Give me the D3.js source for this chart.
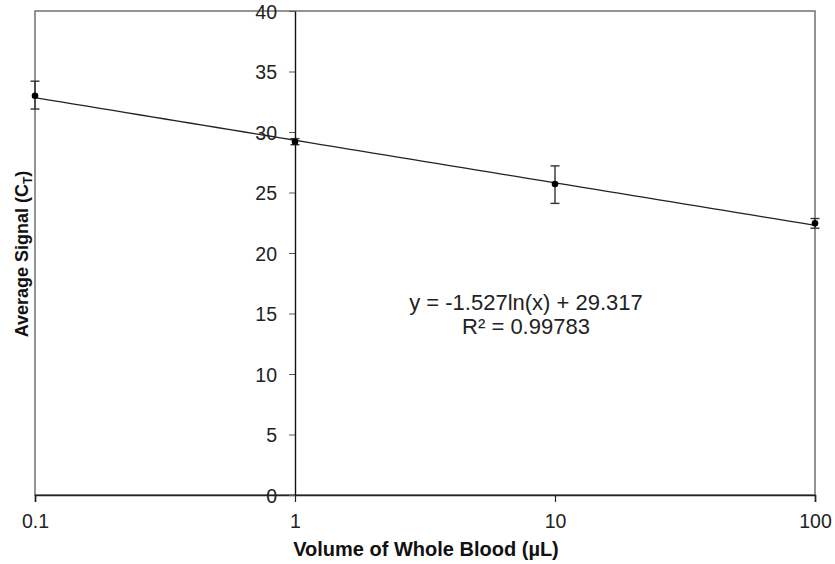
<!DOCTYPE html>
<html>
<head>
<meta charset="utf-8">
<script src="https://cdn.jsdelivr.net/npm/d3@7"></script>
<style>
  body { margin: 0; background: #fff; }
  text { font-family: "Liberation Sans", Arial, sans-serif; }
</style>
</head>
<body>
<script>
// data
var volumes = [0.1, 1, 10, 100];
var signals = [33.0, 29.2, 25.7, 22.45];
var errHigh = [34.2, 29.45, 27.2, 22.85];
var errLow  = [31.9, 28.95, 24.1, 22.05];
var yTicks = [0, 5, 10, 15, 20, 25, 30, 35, 40];
var xTicks = [0.1, 1, 10, 100];
var fitA = -1.527, fitB = 29.317;

var W = 835, H = 564;
var svg = d3.select("body").append("svg").attr("width", W).attr("height", H);

var x = d3.scaleLog().domain([0.1, 100]).range([35, 815]);
var y = d3.scaleLinear().domain([0, 40]).range([495, 11]);

// plot border
svg.append("rect")
   .attr("x", 35).attr("y", 11)
   .attr("width", 780).attr("height", 484)
   .attr("fill", "none").attr("stroke", "#666").attr("stroke-width", 1.4);

// x axis
var gx = svg.append("g").attr("transform", "translate(0," + y(0) + ")")
   .call(d3.axisBottom(x).tickValues(xTicks).tickFormat(d3.format("")).tickSize(7));
gx.select(".domain").attr("stroke", "#222").attr("stroke-width", 1.6);
gx.selectAll(".tick line").attr("stroke", "#222").attr("stroke-width", 1.2);
gx.selectAll("text").attr("font-size", "19.5px").attr("fill", "#222")
  .attr("y", 33).attr("dy", 0);

// y axis sits at x = 1
var gy = svg.append("g").attr("transform", "translate(" + x(1) + ",0)")
   .call(d3.axisLeft(y).tickValues(yTicks).tickSize(6).tickSizeOuter(0));
gy.select(".domain").attr("stroke", "#111").attr("stroke-width", 1.4);
gy.selectAll(".tick line").attr("stroke", "#555");
gy.selectAll("text").attr("font-size", "19.5px").attr("fill", "#222")
  .attr("x", -18).attr("dy", "0.38em");

// trendline
var fitPts = d3.range(0, 61).map(function (i) {
  var v = Math.pow(10, -1 + i * 3 / 60);
  return [v, fitA * Math.log(v) + fitB];
});
svg.append("path")
   .datum(fitPts)
   .attr("d", d3.line().x(function (d) { return x(d[0]); }).y(function (d) { return y(d[1]); }))
   .attr("fill", "none").attr("stroke", "#222").attr("stroke-width", 1.3);

// error bars
var pts = volumes.map(function (v, i) {
  return { v: v, s: signals[i], hi: errHigh[i], lo: errLow[i] };
});
var eb = svg.append("g").attr("stroke", "#333").attr("stroke-width", 1.4);
eb.selectAll("line.v").data(pts).enter().append("line")
  .attr("x1", function (d) { return x(d.v); }).attr("x2", function (d) { return x(d.v); })
  .attr("y1", function (d) { return y(d.hi); }).attr("y2", function (d) { return y(d.lo); });
eb.selectAll("line.h").data(pts).enter().append("line")
  .attr("x1", function (d) { return x(d.v) - 4.5; }).attr("x2", function (d) { return x(d.v) + 4.5; })
  .attr("y1", function (d) { return y(d.hi); }).attr("y2", function (d) { return y(d.hi); });
eb.selectAll("line.l").data(pts).enter().append("line")
  .attr("x1", function (d) { return x(d.v) - 4.5; }).attr("x2", function (d) { return x(d.v) + 4.5; })
  .attr("y1", function (d) { return y(d.lo); }).attr("y2", function (d) { return y(d.lo); });

// points
svg.selectAll("circle").data(pts).enter().append("circle")
   .attr("cx", function (d) { return x(d.v); })
   .attr("cy", function (d) { return y(d.s); })
   .attr("r", 3.3).attr("fill", "#000");

// equation
svg.append("text").attr("x", 526).attr("y", 310).attr("text-anchor", "middle")
   .attr("font-size", "22px").attr("fill", "#222").text("y = -1.527ln(x) + 29.317");
svg.append("text").attr("x", 526).attr("y", 334).attr("text-anchor", "middle")
   .attr("font-size", "22px").attr("fill", "#222").text("R² = 0.99783");

// axis titles
svg.append("text").attr("x", 426).attr("y", 556).attr("text-anchor", "middle")
   .attr("font-size", "20px").attr("font-weight", "bold").attr("fill", "#111")
   .text("Volume of Whole Blood (µL)");

var yt = svg.append("text").attr("transform", "translate(28,254) rotate(-90)")
   .attr("text-anchor", "middle").attr("font-size", "18px").attr("font-weight", "bold").attr("fill", "#111");
yt.append("tspan").text("Average Signal (C");
yt.append("tspan").attr("font-size", "12px").attr("dy", "4").text("T");
yt.append("tspan").attr("dy", "-4").text(")");
</script>
</body>
</html>
